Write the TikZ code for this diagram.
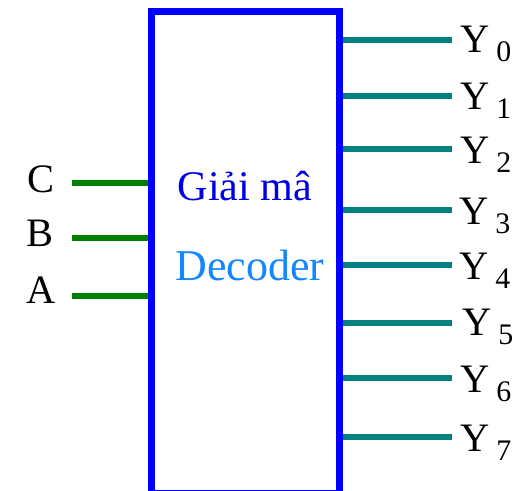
\documentclass[tikz,border=0pt]{standalone}
\usepackage{fontspec}
\setmainfont{Liberation Serif}
\usepackage{tikz}
\usetikzlibrary{positioning}
\definecolor{boxBlue}{RGB}{0,0,255}
\definecolor{txtBlue}{RGB}{0,0,230}
\definecolor{skyBlue}{RGB}{20,135,255}
\definecolor{inGreen}{RGB}{0,128,0}
\definecolor{outTeal}{RGB}{0,128,128}
\newcommand{\ysub}[1]{Y\,\raisebox{-5pt}{\fontsize{17}{20}\selectfont #1}}

\begin{document}
\begin{tikzpicture}[x=0.02cm, y=-0.02cm,
  dec/.style={draw=boxBlue, line width=0.14cm, fill=white, minimum width=3.77cm, minimum height=9.64cm, inner sep=0pt},
  inw/.style={draw=inGreen, line width=0.12cm},
  outw/.style={draw=outTeal, line width=0.12cm},
  lab/.style={font=\fontsize{23}{26}\selectfont, text=black, inner sep=0pt},
  ylab/.style={lab, anchor=west, inner sep=0pt}
]
  \useasboundingbox (0,0) rectangle (522,491);

  % decoder block
  \node[dec] (box) at (245.75,252.5) {};
  \node[font=\fontsize{24}{28}\selectfont, text=txtBlue] (vn) at (245,186) {Giải mâ};
  \node[font=\fontsize{25}{28}\selectfont, text=skyBlue] (en) at (250,265) {Decoder};

  % inputs
  \coordinate (inC) at (72,183);
  \coordinate (inB) at (72,238);
  \coordinate (inA) at (72,296);
  \node[lab] (C) at (41,179) {C};
  \node[lab] (B) at (40,233) {B};
  \node[lab] (A) at (41,290) {A};
  \draw[inw] (inC) -- (inC -| box.west);
  \draw[inw] (inB) -- (inB -| box.west);
  \draw[inw] (inA) -- (inA -| box.west);

  % outputs
  \coordinate (y0) at (452,40);
  \coordinate (y1) at (452,96);
  \coordinate (y2) at (452,149);
  \coordinate (y3) at (452,210);
  \coordinate (y4) at (452,265);
  \coordinate (y5) at (452,323);
  \coordinate (y6) at (452,378);
  \coordinate (y7) at (452,437);
  \draw[outw] (box.east |- y0) -- (y0);
  \draw[outw] (box.east |- y1) -- (y1);
  \draw[outw] (box.east |- y2) -- (y2);
  \draw[outw] (box.east |- y3) -- (y3);
  \draw[outw] (box.east |- y4) -- (y4);
  \draw[outw] (box.east |- y5) -- (y5);
  \draw[outw] (box.east |- y6) -- (y6);
  \draw[outw] (box.east |- y7) -- (y7);
  \node[ylab] (Y0) at (460,44) {\ysub{0}};
  \node[ylab] (Y1) at (460,101) {\ysub{1}};
  \node[ylab] (Y2) at (460,155) {\ysub{2}};
  \node[ylab] (Y3) at (459,216) {\ysub{3}};
  \node[ylab] (Y4) at (459,271) {\ysub{4}};
  \node[ylab] (Y5) at (462,327) {\ysub{5}};
  \node[ylab] (Y6) at (460,384) {\ysub{6}};
  \node[ylab] (Y7) at (460,443) {\ysub{7}};
\end{tikzpicture}
\end{document}
